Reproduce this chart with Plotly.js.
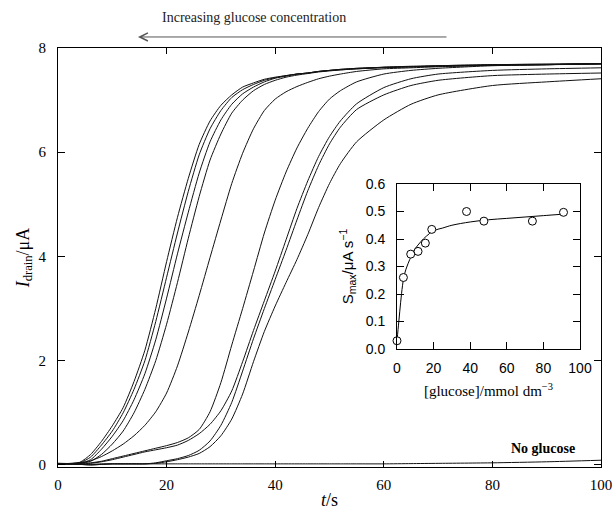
<!DOCTYPE html>
<html>
<head>
<meta charset="utf-8">
<script src="https://cdn.plot.ly/plotly-3.0.1.min.js"></script>
<style>html,body{margin:0;padding:0;background:#fff;}#chart{width:616px;height:510px;}</style>
</head>
<body>
<div id="chart"></div>
<script>
// Time axis (s) shared by all traces
const timeS = [0, 4, 6, 8, 10, 12, 14, 16, 18, 20, 22, 24, 26, 28, 30, 32, 34, 36, 38, 40, 42, 44, 46, 48, 50, 52, 55, 60, 65, 70, 80, 90, 100];

// Drain current (uA) curves, highest glucose concentration first
const curve1 = [0.02, 0.05, 0.2, 0.45, 0.75, 1.1, 1.6, 2.2, 3.0, 3.9, 4.75, 5.5, 6.15, 6.6, 6.9, 7.1, 7.25, 7.33, 7.4, 7.44, 7.47, 7.5, 7.52, 7.55, 7.57, 7.58, 7.6, 7.62, 7.64, 7.65, 7.67, 7.68, 7.7];
const curve2 = [0.02, 0.04, 0.15, 0.38, 0.65, 1.0, 1.45, 2.0, 2.75, 3.6, 4.45, 5.25, 5.95, 6.45, 6.8, 7.05, 7.2, 7.3, 7.38, 7.43, 7.47, 7.5, 7.52, 7.55, 7.57, 7.59, 7.61, 7.63, 7.64, 7.65, 7.67, 7.68, 7.69];
const curve3 = [0.03, 0.03, 0.1, 0.3, 0.55, 0.85, 1.25, 1.75, 2.4, 3.2, 4.05, 4.85, 5.6, 6.2, 6.62, 6.92, 7.12, 7.25, 7.35, 7.42, 7.46, 7.5, 7.52, 7.55, 7.57, 7.59, 7.61, 7.63, 7.64, 7.66, 7.68, 7.69, 7.7];
const curve4 = [0.03, 0.03, 0.07, 0.2, 0.4, 0.65, 1.0, 1.45, 2.0, 2.7, 3.5, 4.35, 5.15, 5.85, 6.35, 6.75, 7.0, 7.18, 7.3, 7.38, 7.44, 7.48, 7.51, 7.54, 7.56, 7.58, 7.6, 7.63, 7.65, 7.66, 7.68, 7.69, 7.7];
const curve5 = [0.02, 0.04, 0.08, 0.16, 0.27, 0.4, 0.56, 0.76, 1.02, 1.38, 1.9, 2.55, 3.25, 3.98, 4.7, 5.4, 5.98, 6.45, 6.8, 7.02, 7.16, 7.26, 7.34, 7.41, 7.46, 7.5, 7.55, 7.6, 7.62, 7.64, 7.67, 7.68, 7.7];
const curve6 = [0.02, 0.03, 0.04, 0.07, 0.12, 0.17, 0.22, 0.27, 0.32, 0.37, 0.43, 0.52, 0.68, 1.02, 1.58, 2.3, 3.0, 3.72, 4.45, 5.08, 5.62, 6.08, 6.46, 6.78, 7.02, 7.18, 7.35, 7.5, 7.57, 7.61, 7.66, 7.68, 7.7];
const curve7 = [0.02, 0.02, 0.03, 0.06, 0.1, 0.15, 0.2, 0.25, 0.29, 0.33, 0.38, 0.47, 0.6, 0.78, 1.04, 1.42, 1.98, 2.58, 3.15, 3.72, 4.32, 4.92, 5.45, 5.92, 6.3, 6.6, 6.93, 7.24, 7.41, 7.5, 7.57, 7.6, 7.62];
const curve8 = [0.02, 0.01, 0.0, 0.01, 0.02, 0.02, 0.02, 0.02, 0.04, 0.08, 0.12, 0.18, 0.28, 0.46, 0.76, 1.2, 1.8, 2.42, 3.0, 3.56, 4.12, 4.7, 5.26, 5.75, 6.16, 6.48, 6.82, 7.1, 7.28, 7.38, 7.47, 7.5, 7.52];
const curve9 = [0.02, 0.01, 0.0, 0.01, 0.02, 0.02, 0.02, 0.02, 0.03, 0.06, 0.1, 0.15, 0.22, 0.35, 0.56, 0.88, 1.36, 1.98, 2.56, 3.05, 3.5, 3.94, 4.42, 4.94, 5.4, 5.78, 6.2, 6.62, 6.92, 7.1, 7.28, 7.35, 7.41];
const noGlucose = [0.02, 0.01, 0.01, 0.02, 0.02, 0.02, 0.02, 0.02, 0.02, 0.02, 0.02, 0.02, 0.02, 0.02, 0.02, 0.02, 0.02, 0.02, 0.02, 0.02, 0.02, 0.02, 0.02, 0.02, 0.02, 0.02, 0.02, 0.02, 0.025, 0.03, 0.04, 0.06, 0.09];

// Inset: maximum slope vs glucose concentration
const glucose = [0, 3.5, 7.5, 11.5, 15.5, 19, 38, 47.5, 74, 91];
const sMax = [0.03, 0.26, 0.345, 0.355, 0.385, 0.435, 0.50, 0.465, 0.465, 0.497];
// Inset fitted curve
const fitX = [0, 1, 2, 3, 4, 6, 8, 10, 13, 16, 20, 25, 30, 40, 50, 60, 70, 80, 90];
const fitY = [0.03, 0.10, 0.17, 0.23, 0.27, 0.31, 0.34, 0.365, 0.39, 0.41, 0.43, 0.44, 0.45, 0.462, 0.47, 0.475, 0.48, 0.485, 0.49];

const curves = [curve1, curve2, curve3, curve4, curve5, curve6, curve7, curve8, curve9, noGlucose];
const traces = curves.map(c => ({
  x: timeS, y: c, type: 'scatter', mode: 'lines',
  line: {color: '#111', width: 1, shape: 'spline', smoothing: 0.6},
  xaxis: 'x', yaxis: 'y', hoverinfo: 'skip'
}));
traces.push({x: fitX, y: fitY, type: 'scatter', mode: 'lines', line: {color: '#000', width: 1, shape: 'spline'}, xaxis: 'x2', yaxis: 'y2', cliponaxis: false});
traces.push({x: glucose, y: sMax, type: 'scatter', mode: 'markers', marker: {symbol: 'circle', size: 8, color: '#fff', line: {color: '#000', width: 1}}, xaxis: 'x2', yaxis: 'y2', cliponaxis: false});

const serif = 'Liberation Serif, Times New Roman, serif';
const sans = 'Liberation Sans, Arial, sans-serif';

const layout = {
  width: 616, height: 510,
  margin: {l: 58, r: 15, t: 48, b: 43},
  paper_bgcolor: '#fff', plot_bgcolor: '#fff',
  showlegend: false,
  font: {family: serif, color: '#000', size: 15},
  xaxis: {
    domain: [0, 1], range: [0, 100], tickvals: [0, 20, 40, 60, 80, 100],
    ticks: 'inside', ticklen: 6, tickcolor: '#000', showline: true, linecolor: '#000', linewidth: 1,
    mirror: 'ticks', showgrid: false, zeroline: false, ticklabelstandoff: 4,
    tickfont: {family: serif, size: 15},
    title: {text: '<i>t</i>/s', font: {family: serif, size: 18}, standoff: 2}
  },
  yaxis: {
    domain: [0, 1], range: [-0.04, 8], tickvals: [0, 2, 4, 6, 8],
    ticks: 'inside', ticklen: 7, tickcolor: '#000', showline: true, linecolor: '#000', linewidth: 1,
    mirror: 'ticks', showgrid: false, zeroline: false, ticklabelstandoff: 8,
    tickfont: {family: serif, size: 15},
    title: {text: '<i>I</i><sub>drain</sub>/μA', font: {family: serif, size: 18}, standoff: 4}
  },
  xaxis2: {
    domain: [0.6243, 0.9613], range: [0, 100], tickvals: [0, 20, 40, 60, 80, 100], anchor: 'y2',
    ticks: 'inside', ticklen: 7, tickcolor: '#000', showline: true, linecolor: '#000', linewidth: 1,
    mirror: 'ticks', showgrid: false, zeroline: false, ticklabelstandoff: 6,
    tickfont: {family: sans, size: 14},
    title: {text: '[glucose]/mmol dm<sup>−3</sup>', font: {family: serif, size: 15}, standoff: 10}
  },
  yaxis2: {
    domain: [0.2816, 0.6754], range: [0, 0.6], tickvals: [0, 0.1, 0.2, 0.3, 0.4, 0.5, 0.6], tickformat: '.1f', anchor: 'x2',
    ticks: 'inside', ticklen: 7, tickcolor: '#000', showline: true, linecolor: '#000', linewidth: 1,
    mirror: 'ticks', showgrid: false, zeroline: false, ticklabelstandoff: 8,
    tickfont: {family: sans, size: 14},
    title: {text: 'S<sub>max</sub>/μA s<sup>−1</sup>', font: {family: sans, size: 15}, standoff: 8}
  },
  annotations: [
    {xref: 'paper', yref: 'paper', x: 0.1473, y: 1.0263, text: '', showarrow: true,
     ax: 310, ay: 0, arrowhead: 5, arrowsize: 1.6, arrowwidth: 1, arrowcolor: '#555'},
    {xref: 'paper', yref: 'paper', x: 0.361, y: 1.0716, text: 'Increasing glucose concentration', showarrow: false,
     font: {family: serif, size: 14, color: '#222'}, xanchor: 'center', yanchor: 'middle'},
    {xref: 'paper', yref: 'paper', x: 0.893, y: 0.043, text: '<b>No glucose</b>', showarrow: false,
     font: {family: serif, size: 14, color: '#000'}, xanchor: 'center', yanchor: 'middle'}
  ]
};

Plotly.newPlot('chart', traces, layout, {staticPlot: true, displayModeBar: false});
</script>
</body>
</html>
